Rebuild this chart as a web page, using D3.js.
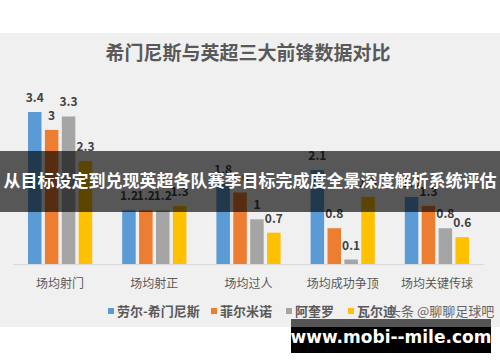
<!DOCTYPE html>
<html>
<head>
<meta charset="utf-8">
<script src="https://cdn.jsdelivr.net/npm/d3@7"></script>
<style>
  body { margin: 0; background: #fff; }
  svg { display: block; font-family: "Noto Sans CJK SC", "Noto Sans", sans-serif; }
</style>
</head>
<body>
<div id="chart"></div>
<script>
const categories = ["场均射门", "场均射正", "场均过人", "场均成功争顶", "场均关键传球"];
const players = ["劳尔-希门尼斯", "菲尔米诺", "阿奎罗", "瓦尔迪"];
const jimenez = [3.4, 1.2, 1.8, 2.1, 1.5];
const firmino = [3, 1.2, 1.6, 0.8, 1.3];
const aguero = [3.3, 1.2, 1, 0.1, 0.8];
const vardy = [2.3, 1.3, 0.7, 1.5, 0.6];
const colors = ["#5b9bd5", "#ed7d31", "#a5a5a5", "#ffc000"];

const series = [jimenez, firmino, aguero, vardy];
const W = 500, H = 362;

const svg = d3.select("#chart").append("svg")
  .attr("width", W).attr("height", H);

// chart background
svg.append("rect").attr("x", 0).attr("y", 33).attr("width", W).attr("height", 294)
  .attr("fill", "#f0f0f0");

svg.append("text").attr("x", 248).attr("y", 60).attr("text-anchor", "middle")
  .attr("font-size", 19).attr("font-weight", "bold").attr("fill", "#595959")
  .text("希门尼斯与英超三大前锋数据对比");

const x0 = d3.scaleBand().domain(categories).range([13, 484]);
const x1 = d3.scaleBand().domain(players).range([15, x0.bandwidth() - 15]).paddingInner(0.2);
const y = d3.scaleLinear().domain([0, 3.4]).range([264, 112]);

const groups = svg.append("g").selectAll("g")
  .data(categories)
  .join("g")
  .attr("transform", d => `translate(${x0(d)},0)`);

groups.selectAll("rect")
  .data((d, i) => players.map((p, j) => ({ p, j, v: series[j][i] })))
  .join("rect")
  .attr("x", d => x1(d.p))
  .attr("y", d => y(d.v))
  .attr("width", x1.bandwidth())
  .attr("height", d => y(0) - y(d.v))
  .attr("fill", d => colors[d.j]);

groups.selectAll("text")
  .data((d, i) => players.map((p, j) => ({ p, j, v: series[j][i] })))
  .join("text")
  .attr("x", d => x1(d.p) + x1.bandwidth() / 2)
  .attr("y", d => y(d.v) - 10)
  .attr("text-anchor", "middle")
  .attr("font-size", 12)
  .attr("font-weight", "bold")
  .attr("fill", "#404040")
  .text(d => d.v);

// baseline
svg.append("line").attr("x1", 13).attr("x2", 484).attr("y1", 264.5).attr("y2", 264.5)
  .attr("stroke", "#d9d9d9");

svg.append("g").selectAll("text")
  .data(categories)
  .join("text")
  .attr("x", d => x0(d) + x0.bandwidth() / 2)
  .attr("y", 288)
  .attr("text-anchor", "middle")
  .attr("font-size", 12)
  .attr("fill", "#595959")
  .text(d => d);

// legend
const legendX = [108, 211, 286, 348];
const legend = svg.append("g").selectAll("g")
  .data(players)
  .join("g")
  .attr("transform", (d, i) => `translate(${legendX[i]},311)`);
legend.append("rect").attr("x", 0).attr("y", -3).attr("width", 6).attr("height", 6)
  .attr("fill", (d, i) => colors[i]);
legend.append("text").attr("x", 9).attr("y", 5)
  .attr("font-size", 13).attr("font-weight", "bold").attr("fill", "#595959")
  .text(d => d);

// overlay banner
svg.append("rect").attr("x", 0).attr("y", 151).attr("width", W).attr("height", 61)
  .attr("fill", "rgba(0,0,0,0.64)");
svg.append("text").attr("x", 250).attr("y", 187).attr("text-anchor", "middle")
  .attr("font-size", 17).attr("font-weight", "bold").attr("fill", "#fff")
  .text("从目标设定到兑现英超各队赛季目标完成度全景深度解析系统评估");

// watermarks
svg.append("text").attr("x", 388).attr("y", 316)
  .attr("font-size", 13).attr("fill", "#666")
  .text("头条 @聊聊足球吧");
svg.append("rect").attr("x", 291).attr("y", 319).attr("width", 200).attr("height", 8)
  .attr("fill", "#555");
svg.append("rect").attr("x", 291).attr("y", 327).attr("width", 200).attr("height", 26)
  .attr("fill", "#000");
svg.append("text").attr("x", 391).attr("y", 343).attr("text-anchor", "middle")
  .attr("font-family", "DejaVu Sans").attr("font-size", 17).attr("font-weight", "bold")
  .attr("fill", "#fff")
  .text("www.mobi--mile.com");
</script>
</body>
</html>
